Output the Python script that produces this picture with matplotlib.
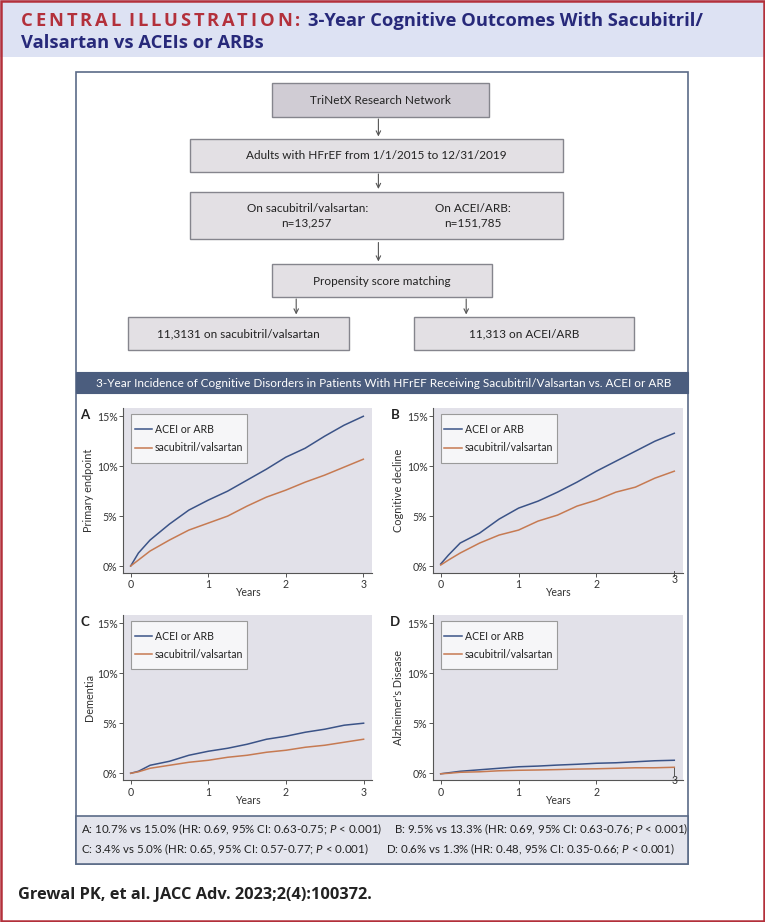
import matplotlib
matplotlib.use('Agg')
import matplotlib.pyplot as plt
from matplotlib.patches import Rectangle
import matplotlib.transforms as mtransforms

plt.rcParams['font.family'] = ['Lato', 'DejaVu Sans']
plt.rcParams['mathtext.fontset'] = 'custom'
plt.rcParams['mathtext.rm'] = 'Lato'
plt.rcParams['mathtext.it'] = 'Lato:italic'

# ---------------- data ----------------
years = [0, 0.1, 0.25, 0.5, 0.75, 1.0, 1.25, 1.5, 1.75, 2.0, 2.25, 2.5, 2.75, 3.0]

a_acei = [0, 1.3, 2.6, 4.2, 5.6, 6.6, 7.5, 8.6, 9.7, 10.9, 11.8, 13.0, 14.1, 15.0]
a_sac = [0, 0.6, 1.5, 2.6, 3.6, 4.3, 5.0, 6.0, 6.9, 7.6, 8.4, 9.1, 9.9, 10.7]

b_acei = [0.2, 1.1, 2.3, 3.3, 4.7, 5.8, 6.5, 7.4, 8.4, 9.5, 10.5, 11.5, 12.5, 13.3]
b_sac = [0.1, 0.6, 1.3, 2.3, 3.1, 3.6, 4.5, 5.1, 6.0, 6.6, 7.4, 7.9, 8.8, 9.5]

c_acei = [0, 0.2, 0.8, 1.2, 1.8, 2.2, 2.5, 2.9, 3.4, 3.7, 4.1, 4.4, 4.8, 5.0]
c_sac = [0, 0.15, 0.5, 0.8, 1.1, 1.3, 1.6, 1.8, 2.1, 2.3, 2.6, 2.8, 3.1, 3.4]

d_acei = [-0.05, 0.05, 0.2, 0.35, 0.5, 0.65, 0.72, 0.82, 0.9, 1.0, 1.05, 1.15, 1.25, 1.3]
d_sac = [-0.05, 0.0, 0.1, 0.15, 0.25, 0.3, 0.33, 0.37, 0.42, 0.45, 0.5, 0.55, 0.55, 0.6]

series_labels = ['ACEI or ARB', 'sacubitril/valsartan']
panel_letters = ['A', 'B', 'C', 'D']
panel_ylabels = ['Primary endpoint', 'Cognitive decline', 'Dementia', "Alzheimer's Disease"]
y_ticks = [0, 5, 10, 15]
y_ticklabels = ['0%', '5%', '10%', '15%']
x_ticks = [0, 1, 2, 3]

stats = [
    'A: 10.7% vs 15.0% (HR: 0.69, 95% CI: 0.63-0.75; $\\mathit{P}$ < 0.001)',
    'B: 9.5% vs 13.3% (HR: 0.69, 95% CI: 0.63-0.76; $\\mathit{P}$ < 0.001)',
    'C: 3.4% vs 5.0% (HR: 0.65, 95% CI: 0.57-0.77; $\\mathit{P}$ < 0.001)',
    'D: 0.6% vs 1.3% (HR: 0.48, 95% CI: 0.35-0.66; $\\mathit{P}$ < 0.001)',
]

# ---------------- styles ----------------
W, H = 765, 922
RED = '#b3303b'
NAVY = '#27297a'
HEAD_BG = '#dde2f3'
FRAME = '#5b6b87'
BAND = '#4b5d7e'
STATS_BG = '#e4e5ed'
AX_BG = '#e2e1e9'
C_ACEI = '#3b5387'
C_SAC = '#c67a52'
BOX_DARK = '#d0ccd4'
BOX_LIGHT = '#e3e0e4'
BOX_EDGE = '#85858d'
TITLE_FONT = ['Open Sans', 'DejaVu Sans']

fig = plt.figure(figsize=(W / 100, H / 100), dpi=100)
bg = fig.add_axes([0, 0, 1, 1])
bg.set_xlim(0, W)
bg.set_ylim(H, 0)
bg.axis('off')
renderer = fig.canvas.get_renderer()

# header band
bg.add_patch(Rectangle((0, 0), W, 57, facecolor=HEAD_BG, edgecolor='none'))
# red outer frame
bg.add_patch(Rectangle((1.2, 1.2), W - 2.4, H - 2.4, facecolor='none', edgecolor=RED, lw=1.8))

# title with letter spacing for the red part, fitted between x0 and x1
def spaced_fit(x0, x1, y, s, **kw):
    words = s.split(' ')
    widths = []
    for w in words:
        ww = []
        for ch in w:
            t = bg.text(0, 0, ch, **kw)
            ww.append(t.get_window_extent(renderer).width)
            t.remove()
        widths.append(ww)
    fs_px = kw['fontsize'] * 100 / 72
    space_w = 0.26 * fs_px
    n_gaps = sum(len(w) for w in words) - 1
    natural = sum(sum(w) for w in widths) + space_w * (len(words) - 1)
    sp = (x1 - x0 - natural) / n_gaps
    x = x0
    for wi, w in enumerate(words):
        for ci, ch in enumerate(w):
            bg.text(x, y, ch, **kw)
            x += widths[wi][ci] + sp
        x += space_w

tkw = dict(fontsize=13.2, fontweight='bold', va='baseline', ha='left', family=TITLE_FONT)
spaced_fit(20.7, 300, 26, 'CENTRAL ILLUSTRATION:', color=RED, **tkw)
bg.text(308, 26, '3-Year Cognitive Outcomes With Sacubitril/', color=NAVY, **tkw)
bg.text(20.7, 47.7, 'Valsartan vs ACEIs or ARBs', color=NAVY, **tkw)

# main box
bg.add_patch(Rectangle((76, 72), 612, 792, facecolor='white', edgecolor=FRAME, lw=1.2, zorder=1))
bg.add_patch(Rectangle((76, 371.7), 612, 21.6, facecolor=BAND, edgecolor=BAND, lw=0.8, zorder=2))
bg.text(96, 383, '3-Year Incidence of Cognitive Disorders in Patients With HFrEF Receiving Sacubitril/Valsartan vs. ACEI or ARB',
        color='white', fontsize=8.45, va='center', ha='left', zorder=3)
bg.add_patch(Rectangle((76, 815.8), 612, 48, facecolor=STATS_BG, edgecolor=FRAME, lw=1.2, zorder=2))

# flowchart
def box(x0, y0, x1, y1, fc):
    bg.add_patch(Rectangle((x0, y0), x1 - x0, y1 - y0, facecolor=fc, edgecolor=BOX_EDGE, lw=1.0, zorder=2))

fkw = dict(fontsize=8.5, color='#222222', ha='center', va='center', zorder=3)
box(271.7, 83.3, 489.1, 116.7, BOX_DARK)
bg.text(380.4, 100, 'TriNetX Research Network', **fkw)
box(189.9, 139, 563.0, 172.3, BOX_LIGHT)
bg.text(376.5, 155.5, 'Adults with HFrEF from 1/1/2015 to 12/31/2019', **fkw)
box(189.9, 191.7, 563.0, 239.3, BOX_LIGHT)
bg.text(307.3, 208.5, 'On sacubitril/valsartan:', **fkw)
bg.text(306, 223, 'n=13,257', **fkw)
bg.text(472.5, 208.5, 'On ACEI/ARB:', **fkw)
bg.text(472.9, 223, 'n=151,785', **fkw)
box(271.7, 264.3, 492.3, 297.3, BOX_LIGHT)
bg.text(382, 281, 'Propensity score matching', **fkw)
box(127.8, 317.3, 348.8, 350.3, BOX_LIGHT)
bg.text(238.5, 334, '11,3131 on sacubitril/valsartan', **fkw)
box(414, 317.3, 634.5, 350.3, BOX_LIGHT)
bg.text(524.5, 334, '11,313 on ACEI/ARB', **fkw)

def arrow(x, y0, y1):
    bg.annotate('', xy=(x, y1), xytext=(x, y0),
                arrowprops=dict(arrowstyle='->', color='#555555', lw=0.8, mutation_scale=8,
                                shrinkA=0, shrinkB=0), zorder=3)

arrow(378.4, 119, 136.5)
arrow(378.4, 174, 189)
arrow(378.4, 242.5, 261.5)
arrow(296.2, 299, 314.5)
arrow(466.2, 299, 314.5)

# stats text
skw = dict(fontsize=8.3, color='#222222', va='center', ha='left', zorder=3)
bg.text(81.5, 829.5, stats[0], **skw)
bg.text(394, 829.5, stats[1], **skw)
bg.text(81.5, 849.5, stats[2], **skw)
bg.text(386.3, 849.5, stats[3], **skw)

# citation
bg.text(18.3, 894.5, 'Grewal PK, et al. JACC Adv. 2023;2(4):100372.', fontsize=11.8,
        fontweight='bold', color='#222222', va='center', ha='left', family=TITLE_FONT)

# ---------------- panels ----------------
def panel(rect, letter, ylabel, acei, sac, odd3=None):
    left, top, right, bottom = rect
    axw = right - left
    axh = bottom - top
    ax = fig.add_axes([left / W, 1 - bottom / H, axw / W, axh / H])
    ax.set_facecolor(AX_BG)
    ax.plot(years, acei, color=C_ACEI, lw=1.1, label=series_labels[0], zorder=4)
    ax.plot(years, sac, color=C_SAC, lw=1.1, label=series_labels[1], zorder=4)
    ax.set_xlim(-0.095, 3.108)
    ax.set_ylim(-0.67, 15.8)
    for s in ['top', 'right']:
        ax.spines[s].set_visible(False)
    for s in ['left', 'bottom']:
        ax.spines[s].set_color('#555555')
        ax.spines[s].set_linewidth(0.8)
    ax.set_yticks(y_ticks)
    ax.set_yticklabels(y_ticklabels)
    ax.set_xticks(x_ticks)
    if odd3 is None:
        ax.set_xticklabels([str(v) for v in x_ticks])
    else:
        ax.set_xticklabels([str(v) for v in x_ticks[:-1]] + [''])
        ax.xaxis.get_major_ticks()[-1].tick1line.set_visible(False)
        lab_dy, m0, m1 = odd3
        tr = mtransforms.blended_transform_factory(ax.transData, ax.transAxes)
        ax.plot([x_ticks[-1], x_ticks[-1]], [m0 / axh, m1 / axh], transform=tr, color='#555555',
                lw=0.7, clip_on=False)
        ax.text(x_ticks[-1], lab_dy / axh, '3', transform=tr, ha='center', va='center',
                fontsize=7.6, color='#333333', clip_on=False)
    ax.tick_params(axis='both', labelsize=7.6, colors='#555555', labelcolor='#333333',
                   length=3, width=0.7, direction='out')
    ax.tick_params(axis='x', pad=1.7)
    ax.tick_params(axis='y', pad=1.2)
    ax.set_xlabel('Years', fontsize=7.6, color='#333333')
    ax.xaxis.set_label_coords(0.5, -14.6 / axh)
    ax.set_ylabel(ylabel, fontsize=7.8, color='#333333')
    ax.yaxis.set_label_coords(-28.8 / axw, 0.5)
    # legend frame (drawn separately: wide vertical padding, narrow horizontal padding)
    ax.add_patch(Rectangle((7.4 / axw, 1 - 54.4 / axh), 116 / axw, 48.4 / axh, transform=ax.transAxes,
                           facecolor='#f6f6f8', edgecolor='#9a9a9a', lw=0.8, zorder=5))
    leg = ax.legend(loc='upper left', bbox_to_anchor=(11.2 / axw, 1 - 15.8 / axh),
                    borderaxespad=0, fontsize=7.6, frameon=False,
                    handlelength=1.65, handletextpad=0.3, labelspacing=0.7, borderpad=0)
    leg.set_zorder(6)
    for tx in leg.get_texts():
        tx.set_color('#222222')
    bg.text(left - 38.3, top + 7, letter, fontsize=9.5, fontweight='bold', color='#222222',
            ha='center', va='center')
    return ax

panel((123.3, 408.3, 371.7, 572.7), panel_letters[0], panel_ylabels[0], a_acei, a_sac)
panel((433.3, 408.3, 682.7, 572.7), panel_letters[1], panel_ylabels[1], b_acei, b_sac,
      odd3=(-6.6, 2.0, -3.3))
panel((123.3, 615, 372, 780), panel_letters[2], panel_ylabels[2], c_acei, c_sac)
panel((433.3, 615, 682.7, 780), panel_letters[3], panel_ylabels[3], d_acei, d_sac,
      odd3=(-0.3, 11.7, 5.0))

fig.savefig('out.png', dpi=100)
